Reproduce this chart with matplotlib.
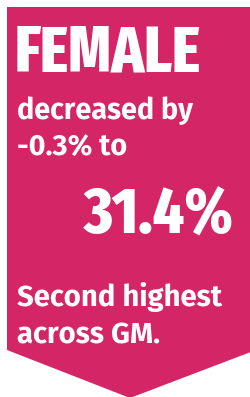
import matplotlib
matplotlib.use("Agg")
import matplotlib.pyplot as plt
from matplotlib.patches import Polygon

# data
group = "FEMALE"
change_pct = -0.3
value_pct = 31.4
note_lines = ["Second highest", "across GM."]

W, H = 251, 397
BG = "#D42567"

fig = plt.figure(figsize=(W / 100, H / 100), dpi=100)
ax = fig.add_axes([0, 0, 1, 1])
ax.set_xlim(0, W)
ax.set_ylim(H, 0)
ax.axis("off")

# banner with arrow point at the bottom
ax.add_patch(Polygon([(7, 7), (W + 5, 7), (W + 5, 350), (130, 398), (7, 350)],
                     closed=True, facecolor=BG, edgecolor="none"))

renderer = fig.canvas.get_renderer()


def fit_text(x, y, s, target_w, family, weight="bold", size=20):
    """Place left/baseline text and scale the size so its ink width is target_w px."""
    t = ax.text(x, y, s, family=family, weight=weight, color="white",
                fontsize=size, ha="left", va="baseline")
    for _ in range(3):
        w = t.get_window_extent(renderer).width
        size *= target_w / w
        t.set_fontsize(size)
    return t


fit_text(15, 72, group, 186, "Fira Sans Extra Condensed", weight=800, size=40)
body = fit_text(17, 119, "decreased by", 176, "Fira Sans")
ax.text(17, 156, f"{change_pct:.1f}% to", family="Fira Sans", weight="bold",
        color="white", fontsize=body.get_fontsize(), ha="left", va="baseline")
fit_text(84, 233, f"{value_pct:.1f}%", 150, "Fira Sans Extra Condensed", weight=800, size=40)
note = fit_text(17, 306, note_lines[0], 206, "Fira Sans")
ax.text(17, 343, note_lines[1], family="Fira Sans", weight="bold",
        color="white", fontsize=note.get_fontsize(), ha="left", va="baseline")

fig.savefig("out.png", dpi=100)
